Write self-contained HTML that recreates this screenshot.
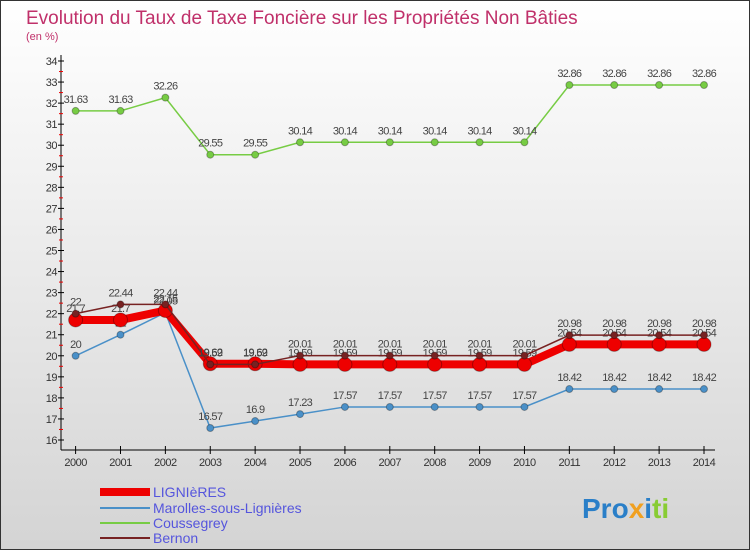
<!DOCTYPE html>
<html><head><meta charset="utf-8"><style>
body{margin:0;width:750px;height:550px;overflow:hidden;font-family:"Liberation Sans",sans-serif}
#c{position:absolute;left:0;top:0;width:748px;height:548px;border:1px solid #333;background:linear-gradient(#ffffff,#d4d4d4)}
</style></head><body>
<div id="c">
<svg id="s" width="750" height="550" style="position:absolute;left:-1px;top:-1px">
<text x="26" y="24" font-size="19" fill="#c0306a">Evolution du Taux de Taxe Foncière sur les Propriétés Non Bâties</text>
<text x="26" y="40" font-size="11" fill="#c0306a">(en %)</text>
<g id="axes"></g><g id="series"></g>
<g>
<line x1="100" y1="492" x2="150" y2="492" stroke="#ee0000" stroke-width="8"/>
<text x="153" y="497" font-size="14" fill="#5555dd">LIGNIèRES</text>
<line x1="100" y1="508" x2="150" y2="508" stroke="#4a90c8" stroke-width="2"/>
<text x="153" y="513" font-size="14" fill="#5555dd">Marolles-sous-Lignières</text>
<line x1="100" y1="523" x2="150" y2="523" stroke="#77cc44" stroke-width="2"/>
<text x="153" y="528" font-size="14" fill="#5555dd">Coussegrey</text>
<line x1="100" y1="538" x2="150" y2="538" stroke="#772222" stroke-width="2"/>
<text x="153" y="543" font-size="14" fill="#5555dd">Bernon</text>
</g>
<text x="582" y="518" font-size="28" font-weight="bold"><tspan fill="#2a7fc8">Pro</tspan><tspan fill="#f0a020">x</tspan><tspan fill="#2a7fc8">i</tspan><tspan fill="#88cc33">ti</tspan></text>
</svg></div>
<script>
const years=[2000,2001,2002,2003,2004,2005,2006,2007,2008,2009,2010,2011,2012,2013,2014];
const lignieres=[21.7,21.7,22.15,19.62,19.62,19.59,19.59,19.59,19.59,19.59,19.59,20.54,20.54,20.54,20.54];
const marolles=[20,21,22.05,16.57,16.9,17.23,17.57,17.57,17.57,17.57,17.57,18.42,18.42,18.42,18.42];
const coussegrey=[31.63,31.63,32.26,29.55,29.55,30.14,30.14,30.14,30.14,30.14,30.14,32.86,32.86,32.86,32.86];
const bernon=[22,22.44,22.44,19.59,19.59,20.01,20.01,20.01,20.01,20.01,20.01,20.98,20.98,20.98,20.98];
const yTicks=[16,17,18,19,20,21,22,23,24,25,26,27,28,29,30,31,32,33,34];
const NS='http://www.w3.org/2000/svg';
const X=i=>75.6+i*(704-75.6)/14, Y=v=>440-(v-16)*(440-61)/18;
function mk(t,a,p){const e=document.createElementNS(NS,t);for(const k in a)e.setAttribute(k,a[k]);p.appendChild(e);return e;}
const ax=document.getElementById('axes');
mk('line',{x1:61,y1:55,x2:61,y2:450,stroke:'#000'},ax);
mk('line',{x1:61,y1:450,x2:715,y2:450,stroke:'#000'},ax);
yTicks.forEach(v=>{mk('line',{x1:58,y1:Y(v),x2:64,y2:Y(v),stroke:'#000'},ax);
 if(v<34)mk('line',{x1:59,y1:Y(v+0.5),x2:63,y2:Y(v+0.5),stroke:'#e00'},ax);
 const t=mk('text',{x:57,y:Y(v)+4,'font-size':11,'text-anchor':'end',fill:'#333','letter-spacing':'-0.5'},ax);t.textContent=v;
 });
years.forEach((y,i)=>{mk('line',{x1:X(i),y1:446,x2:X(i),y2:454,stroke:'#000'},ax);
 const t=mk('text',{x:X(i),y:466,'font-size':11,'text-anchor':'middle',fill:'#333','letter-spacing':'-0.5'},ax);t.textContent=y;
 });
const sg=document.getElementById('series');
function draw(vals,col,w,r,name){const g=mk('g',{},sg);
 
 mk('polyline',{points:vals.map((v,i)=>X(i)+','+Y(v)).join(' '),fill:'none',stroke:col,'stroke-width':w},g);
 vals.forEach((v,i)=>{const c=mk('circle',{cx:X(i),cy:Y(v),r:r,fill:col,stroke:'rgba(0,0,0,0.3)'},g);
  
  const t=mk('text',{x:X(i),y:Y(v)-8,'font-size':11,'text-anchor':'middle',fill:'#444','letter-spacing':'-0.7'},g);t.textContent=v;
  });}
draw(coussegrey,'#77cc44',1.5,3.5,'series-coussegrey');
draw(marolles,'#4a90c8',1.5,3.5,'series-marolles');
draw(lignieres,'#ee0000',8,7,'series-lignieres');
draw(bernon,'#772222',1.5,3.5,'series-bernon');
</script></body></html>
